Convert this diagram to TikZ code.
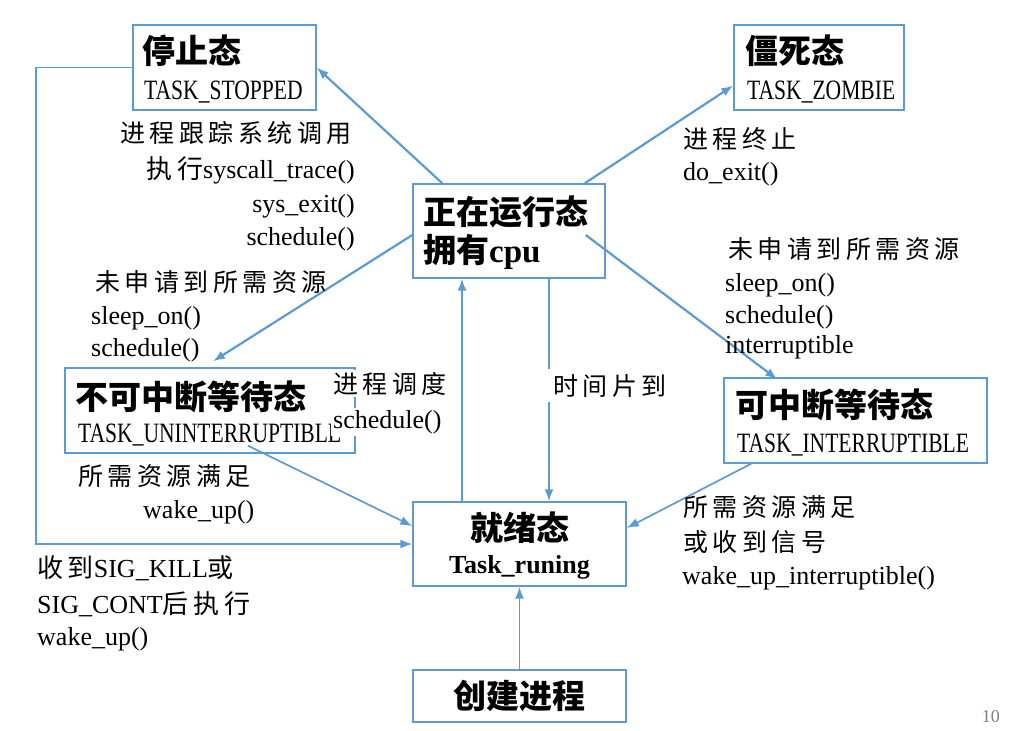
\documentclass[tikz,border=0pt]{standalone}
\usepackage{fontspec}
\setmainfont{Liberation Serif}
\newfontfamily\cjk{Noto Sans CJK SC}
\newfontfamily\kai[LetterSpace=18]{Noto Sans CJK SC}
\newfontfamily\narrow[FakeStretch=0.77]{Liberation Serif}
\usetikzlibrary{arrows.meta,calc}
\definecolor{lblue}{RGB}{91,155,213}
\definecolor{pgray}{RGB}{128,128,128}
\begin{document}
\begin{tikzpicture}[x=1pt,y=-1pt,
  box/.style={draw=lblue,line width=1.4pt,inner sep=0pt,fill=none},
  title/.style={font=\cjk\bfseries\fontsize{33}{33}\selectfont,inner sep=0pt},
  sub/.style={font=\narrow\fontsize{28}{28}\selectfont,inner sep=0pt},
  lab/.style={font=\fontsize{26}{26}\selectfont,inner sep=0pt},
  clab/.style={font=\kai\fontsize{25}{25}\selectfont,inner sep=0pt},
  arr/.style={draw=lblue,line width=2.2pt,-{Latex[length=12pt,width=9pt]}},
  arrt/.style={draw=lblue,line width=1.7pt,-{Latex[length=12pt,width=9pt]}},
  wfill/.style={fill=white,inner sep=2pt}
]
\useasboundingbox (0,0) rectangle (1018,731);

% boxes
\node[box,minimum width=183,minimum height=85] (stop) at (224.5,67.5) {};
\node[box,minimum width=170,minimum height=85] (zombie) at (819,67.5) {};
\node[box,minimum width=192,minimum height=94] (run) at (509,231) {};
\node[box,minimum width=290,minimum height=85] (unint) at (210,410.5) {};
\node[box,minimum width=263,minimum height=85] (inter) at (855.5,420.5) {};
\node[box,minimum width=213,minimum height=84] (ready) at (519.5,544) {};
\node[box,minimum width=213,minimum height=52] (create) at (519.5,696) {};

% box texts
\node[title,anchor=west] (stopT) at (142,51) {停止态};
\node[sub,anchor=base west] (stopS) at (144,99) {TASK\_STOPPED};
\node[title,anchor=west] (zombieT) at (745,51) {僵死态};
\node[sub,anchor=base west] (zombieS) at (747,99) {TASK\_ZOMBIE};
\node[title,anchor=west] (runT) at (423,212) {正在运行态};
\node[title,anchor=west] (runS) at (423,252) {拥有{\fontspec{Liberation Serif}\bfseries cpu}};
\node[title,anchor=west] (unintT) at (75,397) {不可中断等待态};
\node[sub,anchor=base west] (unintS) at (78,442) {TASK\_UNINTERRUPTIBLE};
\node[title,anchor=west] (interT) at (735,405) {可中断等待态};
\node[sub,anchor=base west] (interS) at (737,452) {TASK\_INTERRUPTIBLE};
\node[title] (readyT) at (519.5,528) {就绪态};
\node[lab,font=\bfseries\fontsize{26}{26}\selectfont,anchor=base] (readyS) at (519.5,573) {Task\_runing};
\node[title] (createT) at (519.5,696) {创建进程};

% connectors
\draw[arr] ($(run.north west)+(30,0)$) -- (stop.east);
\draw[arr] ($(run.north east)+(-21,0)$) -- ($(zombie.west)+(0,18)$);
\draw[arr] ($(run.west)+(0,4)$) -- ($(unint.north)+(3,-6)$);
\draw[arr] ($(run.east)+(-20,4)$) -- ($(inter.north west)+(54,2)$);
\draw[arrt] ($(run.south)+(40,0)$) coordinate (ts) -- (ts |- ready.north);
\draw[arrt] ($(ready.north)+(-57.5,0)$) coordinate (sc) -- (sc |- run.south);
\draw[arrt] (create.north) -- (ready.south);
\draw[arrt] ($(unint.south)+(38,-8)$) -- ($(ready.west)+(0,-18)$);
\draw[arrt] ($(inter.south west)+(28,0)$) -- ($(ready.east)+(0,-16)$);
\draw[arrt] (stop.west) -- ++(-96,0) |- (ready.west);

% labels top-left
\node[clab,anchor=base east] (l1a) at (352,142) {进程跟踪系统调用};
\node[lab,anchor=base east] (l1b) at (355,178) {{\kai 执行}syscall\_trace()};
\node[lab,anchor=base east] (l1c) at (355,212) {sys\_exit()};
\node[lab,anchor=base east] (l1d) at (355,245) {schedule()};

% labels left-mid
\node[clab,anchor=base west] (l2a) at (95,291) {未申请到所需资源};
\node[lab,anchor=base west] (l2b) at (91,324) {sleep\_on()};
\node[lab,anchor=base west] (l2c) at (91,356) {schedule()};

% scheduling label
\node[clab,wfill,anchor=base west] (l3a) at (331,393) {进程调度};
\node[lab,wfill,anchor=base west] (l3b) at (331,428) {schedule()};

% time slice
\node[clab,fill=white,inner sep=5pt,anchor=base west] (l4) at (548,395) {时间片到};

% left-bottom labels
\node[clab,anchor=base west] (l5a) at (78,485) {所需资源满足};
\node[lab,anchor=base west] (l5b) at (143,518) {wake\_up()};
\node[lab,anchor=base west] (l6a) at (37,577) {{\kai 收到}SIG\_KILL{\kai 或}};
\node[lab,anchor=base west] (l6b) at (37,613) {SIG\_CONT{\kai 后执行}};
\node[lab,anchor=base west] (l6c) at (37,645) {wake\_up()};

% zombie label
\node[clab,anchor=base west] (l7a) at (683,148) {进程终止};
\node[lab,anchor=base west] (l7b) at (683,180) {do\_exit()};

% right labels
\node[clab,anchor=base west] (l8a) at (728,258) {未申请到所需资源};
\node[lab,anchor=base west] (l8b) at (725,291) {sleep\_on()};
\node[lab,anchor=base west] (l8c) at (725,323) {schedule()};
\node[lab,anchor=base west] (l8d) at (725,353) {interruptible};

% right-bottom labels
\node[clab,anchor=base west] (l9a) at (683,516) {所需资源满足};
\node[clab,anchor=base west] (l9b) at (683,551) {或收到信号};
\node[lab,anchor=base west] (l9c) at (682,584) {wake\_up\_interruptible()};

% page number
\node[font=\fontsize{18}{18}\selectfont,text=pgray,inner sep=0pt,anchor=base east] (pg) at (1000,722) {10};
\end{tikzpicture}
\end{document}
